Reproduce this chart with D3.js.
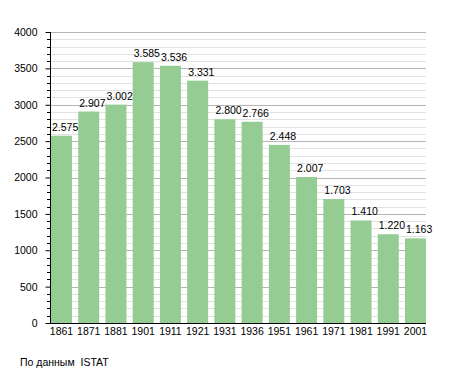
<!DOCTYPE html>
<html>
<head>
<meta charset="utf-8">
<script src="https://cdn.jsdelivr.net/npm/d3@7"></script>
<style>
body { margin: 0; background: #fff; }
text { font-family: "Liberation Sans", Arial, sans-serif; font-size: 10.5px; fill: #000; }
</style>
</head>
<body>
<svg id="chart"></svg>
<script>
// years and population
const years = ["1861","1871","1881","1901","1911","1921","1931","1936","1951","1961","1971","1981","1991","2001"]
const population = [2575, 2907, 3002, 3585, 3536, 3331, 2800, 2766, 2448, 2007, 1703, 1410, 1220, 1163]
const yTicks = [0, 500, 1000, 1500, 2000, 2500, 3000, 3500, 4000]
const source = "По данным  ISTAT"

const svg = d3.select("svg#chart")
              .attr("width", 455)
              .attr("height", 373)

const mLeft = 50, mRight = 426, mTop = 32, mBottom = 323

const x = d3.scaleBand()
            .domain(years)
            .range([mLeft + 1, mRight])
            .paddingInner(0.229)
            .paddingOuter(0)

const y = d3.scaleLinear()
            .domain([0, 4000])
            .range([mBottom, mTop])

const minor = d3.range(100, 4001, 100).filter(v => v % 500 != 0)

// minor grid
svg.append("g")
   .selectAll("line")
   .data(minor)
   .join("line")
   .attr("x1", mLeft)
   .attr("x2", mRight)
   .attr("y1", d => Math.round(y(d)) + 0.5)
   .attr("y2", d => Math.round(y(d)) + 0.5)
   .attr("stroke", "#e2e2e2")
   .attr("stroke-width", 1)

// major grid
svg.append("g")
   .selectAll("line")
   .data(yTicks.slice(1))
   .join("line")
   .attr("x1", mLeft)
   .attr("x2", mRight)
   .attr("y1", d => Math.round(y(d)) + 0.5)
   .attr("y2", d => Math.round(y(d)) + 0.5)
   .attr("stroke", "#b4b4b4")
   .attr("stroke-width", 1)

// bars
svg.append("g")
   .selectAll("rect")
   .data(years)
   .join("rect")
   .attr("x", d => x(d))
   .attr("y", (d, i) => y(population[i]))
   .attr("width", x.bandwidth())
   .attr("height", (d, i) => mBottom - y(population[i]))
   .attr("fill", "#94cc94")

// value labels
svg.append("g")
   .selectAll("text")
   .data(years)
   .join("text")
   .attr("x", d => x(d) + 1)
   .attr("y", (d, i) => y(population[i]) - 5)
   .text((d, i) => d3.format(",")(population[i]).replace(",", "."))

// y axis: minor ticks
svg.append("g")
   .selectAll("line")
   .data(minor)
   .join("line")
   .attr("x1", mLeft - 3)
   .attr("x2", mLeft)
   .attr("y1", d => Math.round(y(d)) + 0.5)
   .attr("y2", d => Math.round(y(d)) + 0.5)
   .attr("stroke", "#000")

const yAxis = d3.axisLeft(y)
                .tickValues(yTicks)
                .tickSize(5)
                .tickPadding(8)
                .tickFormat(d3.format("d"))

svg.append("g")
   .attr("transform", `translate(${mLeft + 0.5},0)`)
   .call(yAxis)
   .call(g => g.select(".domain").attr("d", `M0,${mTop}V${mBottom}`))
   .call(g => g.selectAll("text").attr("font-family", null).attr("font-size", null))

// x axis line
svg.append("line")
   .attr("x1", mLeft)
   .attr("x2", mRight)
   .attr("y1", mBottom + 0.5)
   .attr("y2", mBottom + 0.5)
   .attr("stroke", "#000")

// x labels
svg.append("g")
   .selectAll("text")
   .data(years)
   .join("text")
   .attr("x", d => x(d) + x.bandwidth() / 2)
   .attr("y", mBottom + 12)
   .attr("text-anchor", "middle")
   .text(d => d)

// source
svg.append("text")
   .attr("x", 20)
   .attr("y", 366)
   .style("white-space", "pre")
   .text(source)
</script>
</body>
</html>
